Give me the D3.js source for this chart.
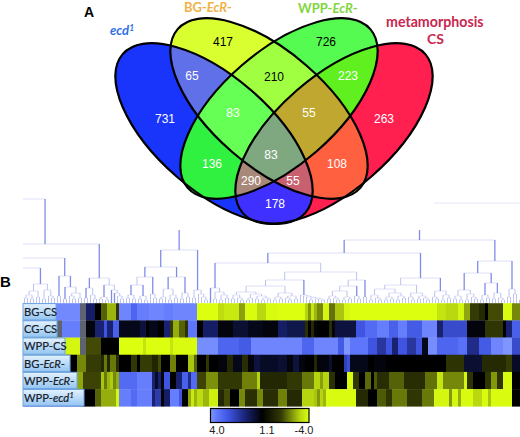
<!DOCTYPE html>
<html><head><meta charset="utf-8">
<script src="https://cdn.jsdelivr.net/npm/d3@7"></script>
<style>html,body{margin:0;padding:0;background:#fff}svg{display:block}</style>
</head><body><svg id="c" width="520" height="437"></svg>
<script>
// ---- Venn data
const vennSets = ["B","Y","G","R"];
const vennRegions = [["B"],["Y"],["G"],["R"],["B","Y"],["Y","G"],["G","R"],["B","G"],["Y","R"],["B","R"],
  ["B","Y","G"],["Y","G","R"],["B","G","R"],["B","Y","R"],["B","Y","G","R"]];
const vennCounts = [731,417,726,263,65,210,223,136,108,178,83,55,290,55,83];
const vennFills = ["#1a35fb","#d9ff30","#55fb50","#ff2050","#6070e8","#a0ff40","#60f020","#30f040","#ff6040","#4030ff",
  "#66ff55","#c0a830","#a88878","#c86070","#80a880"];
const vennInk = ["#fff","#000","#000","#fff","#fff","#000","#fff","#fff","#fff","#fff","#fff","#fff","#fff","#fff","#fff"];
const vennLabelX = [165,223,326,384,192,274,348,212,337,275,233,309,251,293,271];
const vennLabelY = [119,42,42,119,76,77,76,164,164,204,113,113,181,181,155];

// ---- Heat map data (run lengths: [columns, value]; null = grey, no data)
const rowLabels = ["BG-CS","CG-CS","WPP-CS","BG-EcR-","WPP-EcR-","WPP-ecd1"];
const bgCS = [[11,3.2],[8,3.85],[2,null],[3,1.9],[2,1.1],[2,-1.5],[3,-2.6],[1,-0.8],[4,3.8],[2,3.3],[4,3.7],[5,3.8],[3,3.7],[8,3.8],
 [7,-4],[2,-3.2],[5,-3.5],[2,-2.3],[4,-3.9],[3,-3.1],[4,-3.9],[9,-4],[1,-3],[1,-2.2],[1,-3.4],[1,-2.6],[2,-2],[2,-3.8],[2,-1.7],[3,-2.8],[2,-3.8],
 [29,-4],[3,-3.4],[4,-3.1],[2,-3.8],[2,-2.4],[3,-1],[2,-0.4],[1,1.1],[5,-1.2],[3,-3.9],[3,-2]];
const cgCS = [[11,3.2],[2,null],[6,3.7],[2,null],[3,1.2],[3,2],[1,3],[2,2],[2,3.2],[7,1.3],[2,1.6],[1,1.1],[3,1.3],[2,1.1],[2,2],[1,-1],[2,-2.5],[2,-1.5],[1,-0.7],[3,3.6],
 [2,1.1],[5,1.9],[5,1.2],[5,1.5],[5,1.3],[5,1.2],[3,1.9],[6,1.7],[1,-0.6],[1,1.1],[1,-0.4],[1,1.2],[4,1.1],[1,-0.5],[1,1.2],[7,1.6],[3,3],[4,3.4],[4,3.7],[3,3.2],
 [3,3.7],[5,3.1],[5,3.8],[2,2],[8,2.8],[6,1.2],[6,-0.8],[1,1.1],[2,2],[3,3.2]];
const wppCS = [[14,-4],[5,-3.8],[2,null],[5,-1.2],[6,1.1],[8,-4],[1,-3.4],[8,-4],[1,-3.4],[8,-3.9],
 [7,3.9],[7,3.3],[4,3.1],[9,3.8],[8,3.8],[4,3.3],[8,3.8],[2,3.1],[2,4],[6,3.6],[3,3],[3,2.4],[2,3],[2,2],[3,3],[3,2.4],[2,3],[2,1.3],[3,3.9],[7,3.3],[3,3.5],[4,2.2],[4,3.1],[4,3.8],[3,4],[3,2.8]];
const bgEcR = [[16,1.5],[2,1.1],[3,-2],[5,-1],[1,-0.3],[1,-1.8],[1,-0.3],[2,-1.8],[1,-0.5],[4,1.1],[2,-0.9],[1,1.1],[4,-1],[2,-0.2],[1,-1.2],[3,1.1],[2,-1.9],[4,1.1],[2,-2.8],[1,-1.5],
 [3,1.1],[1,-0.8],[3,1.1],[3,1.2],[2,-0.3],[3,1.3],[2,-0.5],[2,1.2],[2,1.6],[6,1.4],[3,1.5],[2,1.2],[2,1.6],[2,1.2],[3,1.1],[1,-0.3],[4,1.2],[1,1.5],[4,1.1],[1,2.6],[1,2.9],
 [6,1.3],[2,1.1],[4,1.2],[4,1.1],[16,1.1],[6,-0.7],[6,1.5],[8,-0.4],[2,-1],[3,1.4]];
const wppEcR = [[18,2.8],[2,-2.4],[6,-1.1],[1,-2.8],[1,-1.8],[1,-2.6],[1,-2.9],[1,-2],[1,-2.5],[6,3.4],[5,3.7],[1,2],[1,1.4],[1,2],[1,1.2],[2,3],[2,1.1],[2,2],[2,3.2],[1,2.2],[2,3.4],
 [3,-1.1],[4,-2.1],[8,-0.9],[5,-1.9],[1,-3],[9,-0.3],[5,-0.9],[4,-1.8],[2,-3],[1,-2.3],[2,-3],[2,-0.6],[4,1.1],[2,-3.9],[2,-0.9],[2,1.1],[2,-1.6],[1,1.1],[1,-1.4],
 [4,-0.5],[5,-1.5],[7,-0.5],[4,-1.7],[2,-3.4],[7,-2],[1,-3.8],[2,-0.7],[4,1.1],[2,-0.8],[2,-2.2],[2,-0.8],[3,-3.9],[3,1.1]];
const wppEcd = [[20,3],[4,1.1],[2,-1.5],[5,-2.5],[1,-3.8],[4,3.7],[2,3.4],[5,3.7],[1,2],[2,2.5],[1,1.1],[2,1.9],[3,3.7],[1,3],[2,1.1],[1,-2.4],[1,-3.5],[1,-2.6],
 [2,-3.2],[2,-2.6],[3,-3.6],[2,-0.3],[2,-1.2],[3,1.1],[2,-2],[4,-0.6],[2,-2],[5,-0.5],[3,-1.9],[5,-0.4],[4,-3],[1,-2.8],[1,-2.2],[1,-3],[1,-2.6],[10,-3.9],[4,-0.4],[3,1.1],[3,-1.4],[2,-0.8],
 [4,-1.8],[1,-1.8],[5,-0.8],[4,-1.8],[5,-3.8],[1,-2.2],[2,-3.8],[1,-2.5],[4,-3.9],[3,-3.1],[2,-3.9],[1,-2.8],[7,-3.9],[3,1.1]];
const heatRuns = [bgCS,cgCS,wppCS,bgEcR,wppEcR,wppEcd];
const legendTicks = [4.0,1.1,-4.0];

// ---- Dendrogram: "(a b)h" = merge at height h, "." = leaf, "_N" = off-picture branch N leaves wide
const A1="(((..)5(..)4)8(..)6)12", A2="((..)4(.(..)5)7)13";
const B2="((..)4((.(..)4)7(..)5)10)16";
const C1="((..)5(.(..)4)8)15", C2="(((..)4(..)3)6(.(.(.(..)4)7)10)13)18";
const treeA = `(_300(((_153(${A1}${A2})19)35((..)7${B2})27)45(${C1}${C2})25)59)104`;
const P="(((..)5(..)4)8((..)4(..)3)7)18", Q="(.(..)5)9";
const R1="(((..)4.)6((..)3(..)5)8)14", R2="((..)4(..)6)10";
const Z="((..)5(.(.(..)3)6)9)13";
const treeB = `(((${P}${Q})26(${R1}${R2})26)36${Z})53`;
const E0="(.((..)4((..)3(..)5)8)11)15";
const S1="((..)4(.(..)3)5)8", S2="(((..)3.)5((..)4((..)3(..)4)5)7)9";
const T="(((..)3(..)4)6((.(..)3)5(..)4)7)10", U="(.(.(.((..)3((..)4(..)3)4)5)6)7)8";
const V1="(((..)4(.(..)3)5)7((..)3(..)4)6)12", V2="(.(..)4)7";
const W1="((..)3(.(..)3)5)8", W2="(((..)3(..)4)6((..)3(..)5)7)10";
const X="((.(..)3)6((..)4(.(..)3)5)7)10", Y2="((.(..)4)6((..)3(..)5)8)12";
const left40=`(${E0}(((${`(${S1}${S2})11`}${T})17${U})23((${V1}${V2})17(..)6)23)31)40`;
const right25=`(((${W1}${W2})14${X})18${Y2})25`;
const H13="(((..)4(..)3)7((..)3(.(..)4)6)9)13", H20="(((..)3(..)5)8((..)4(.(..)3)5)10)20";
const treeC = `((${left40}${right25})50((${H13}${H20})30((..)6(..)9)14)42)63`;
const treeD = "((..)3(..)4)6";
const treeRoots = [treeA,treeB,treeC,treeD];
const treeStems = [null,73,73,null];
const treeOrigin = 453;

// ---- Scaffolding
const svg = d3.select("#c");
const defs = svg.append("defs");
const sans = "'Liberation Sans',Arial,sans-serif";
const human = "Lato,'Open Sans',sans-serif";

// ---- Venn
const ellA = 121, ellB = 57, ellT = 41;
const ellipses = {B:{cx:214,cy:133.5,r:ellT},Y:{cx:269,cy:108.5,r:ellT},G:{cx:279,cy:108.5,r:-ellT},R:{cx:334,cy:133.5,r:-ellT}};
const setEllipse = (sel,k)=>sel.attr("cx",ellipses[k].cx).attr("cy",ellipses[k].cy).attr("rx",ellA).attr("ry",ellB)
  .attr("transform",`rotate(${ellipses[k].r} ${ellipses[k].cx} ${ellipses[k].cy})`);
vennSets.forEach(k=>{ defs.append("clipPath").attr("id","clip"+k).append("ellipse").call(setEllipse,k); });
const venn = svg.append("g");
vennRegions.forEach((sets,i)=>{
  let g = venn;
  sets.forEach(k=>{ g = g.append("g").attr("clip-path",`url(#clip${k})`); });
  g.append("rect").attr("width",520).attr("height",240).attr("fill",vennFills[i]);
});
vennSets.forEach(k=>{ venn.append("ellipse").call(setEllipse,k).attr("fill","none").attr("stroke","#000").attr("stroke-width",2.2); });
svg.append("g").selectAll("text").data(vennCounts).join("text")
  .attr("x",(d,i)=>vennLabelX[i]).attr("y",(d,i)=>vennLabelY[i]+4.3).attr("text-anchor","middle")
  .attr("font-family",sans).attr("font-size",12).attr("fill",(d,i)=>vennInk[i]).text(d=>d);

function label(x,y,color,parts,size){
  const t = svg.append("text").attr("x",x).attr("y",y).attr("font-family",human).attr("font-weight",700)
    .attr("font-size",size).attr("fill",color);
  parts.forEach(p=>{ const s=t.append("tspan").text(p.t); if(p.i)s.attr("font-style","italic"); if(p.sup)s.attr("dy",-4).attr("font-size",size*0.65); });
}
svg.append("text").attr("x",84).attr("y",17).attr("font-family",sans).attr("font-weight",700).attr("font-size",14).text("A");
svg.append("text").attr("x",0).attr("y",287).attr("font-family",sans).attr("font-weight",700).attr("font-size",15).text("B");
label(110,35,"#2f6fe2",[{t:"ecd",i:1},{t:"1",i:1,sup:1}],13);
label(184,12,"#efb247",[{t:"BG-"},{t:"EcR",i:1},{t:"-"}],13);
label(298,13,"#80d63e",[{t:"WPP-"},{t:"EcR",i:1},{t:"-"}],13);
label(386,27,"#c8274f",[{t:"metamorphosis"}],14.2);
label(427,44,"#c8274f",[{t:"CS"}],14);

// ---- Dendrogram
function parseTree(s){
  let i=0;
  function num(){ const m=/^\d+/.exec(s.slice(i)); i+=m[0].length; return +m[0]; }
  function node(){
    const c=s[i];
    if(c==="."){ i++; return {h:0,w:1}; }
    if(c==="_"){ i++; return {h:0,w:num(),hidden:true}; }
    i++; const kids=[]; while(s[i]!==")"){ if(i>=s.length) throw new Error("unbalanced"); kids.push(node()); }
    i++; return {h:num(),children:kids};
  }
  return node();
}
const heatX0 = 23, colW = 3, nCols = 166;
const slotX = d3.scaleLinear().domain([treeOrigin,treeOrigin+nCols]).range([heatX0,heatX0+colW*nCols]);
const treeY = d3.scaleLinear().domain([0,104]).range([303,199]);
defs.append("clipPath").attr("id","treeClip").append("rect").attr("x",23).attr("y",190).attr("width",497).attr("height",114);
const tree = svg.append("g").attr("clip-path","url(#treeClip)");
let cursor = 0;
const hLines=[], vLines=[];
treeRoots.forEach((src,ri)=>{
  const root = d3.hierarchy(parseTree(src));
  root.eachAfter(n=>{
    if(!n.children){ n.slot=cursor+n.data.w/2; cursor+=n.data.w; }
    else n.slot=d3.mean([n.children[0].slot,n.children[n.children.length-1].slot]);
  });
  root.each(n=>{
    if(n.children) hLines.push({a:n.children[0].slot,b:n.children[n.children.length-1].slot,h:n.data.h});
    const top = n.parent ? n.parent.data.h : treeStems[ri];
    if(top!==null && !n.data.hidden) vLines.push({x:n.slot,h0:n.data.h,h1:top});
  });
});
tree.selectAll(".h").data(hLines).join("line").attr("class","h")
  .attr("x1",d=>slotX(d.a)).attr("x2",d=>slotX(d.b)).attr("y1",d=>treeY(d.h)).attr("y2",d=>treeY(d.h))
  .attr("stroke",d=>d.h>9?"#dde0f8":"#e3e5f9").attr("stroke-width",1);
tree.selectAll(".v").data(vLines).join("line").attr("class","v")
  .attr("x1",d=>slotX(d.x)).attr("x2",d=>slotX(d.x)).attr("y1",d=>treeY(d.h1)).attr("y2",d=>treeY(d.h0))
  .attr("stroke",d=>d.h1-d.h0>9?"#7f8de6":"#bcc3f0").attr("stroke-width",d=>d.h1-d.h0>9?1.3:1);
tree.append("line").attr("x1",slotX(treeOrigin+137)).attr("x2",520).attr("y1",treeY(100)).attr("y2",treeY(100)).attr("stroke","#e4e6f8");

// ---- Heat map
const heatColor = d3.scaleLinear()
  .domain([4,3.6,3,2,1.1,-1,-2,-3,-4])
  .range(["#7f95ff","#5d76fb","#3f55e2","#182270","#000000","#353b04","#76880a","#b6d410","#dcff10"]).clamp(true);
const rowY = d3.scaleBand().domain(d3.range(rowLabels.length)).range([303.2,406.3]);
const colX = d3.scaleLinear().domain([0,nCols]).range([heatX0,heatX0+colW*nCols]);
const heat = svg.append("g");
heatRuns.forEach((runs,r)=>{
  const cells=[]; let c=0;
  runs.forEach(([n,v])=>{ cells.push({c,n,v}); c+=n; });
  heat.append("g").selectAll("rect").data(cells).join("rect")
    .attr("x",d=>colX(d.c)).attr("width",d=>colX(d.n)-colX(0)+0.3).attr("y",rowY(r)).attr("height",rowY.bandwidth()+0.3)
    .attr("fill",d=>d.v===null?"#5d6470":heatColor(d.v));
});

// ---- Row labels
const grad = defs.append("linearGradient").attr("id","lab").attr("x1",0).attr("x2",0).attr("y1",0).attr("y2",1);
grad.append("stop").attr("offset",0).attr("stop-color","#e4f2fd");
grad.append("stop").attr("offset",1).attr("stop-color","#93c4f0");
const labelWidths = [33,34,42,47,54,61];
rowLabels.forEach((t,i)=>{
  svg.append("rect").attr("x",23).attr("y",rowY(i)+0.4).attr("width",labelWidths[i]).attr("height",rowY.bandwidth()-0.8)
    .attr("fill","url(#lab)").attr("stroke","#6ea6e2").attr("stroke-width",1);
  const tx = svg.append("text").attr("x",24).attr("y",rowY(i)+12.8).attr("font-family",human).attr("font-size",11.2)
    .attr("fill","#16202c").attr("stroke","#16202c").attr("stroke-width",0.2);
  const m = /^(.*-)(EcR|ecd)(.*)$/.exec(t);
  if(m){ tx.append("tspan").text(m[1]); tx.append("tspan").attr("font-style","italic").text(m[2]);
    if(m[3]==="1") tx.append("tspan").attr("font-style","italic").attr("dy",-4).attr("font-size",8).text("1");
    else tx.append("tspan").text(m[3]);
  } else tx.text(t);
});

// ---- Legend
const legX = d3.scaleLinear().domain([4,1.1,-4]).range([210.5,262,309]);
const lg = defs.append("linearGradient").attr("id","leg");
heatColor.domain().forEach(v=>lg.append("stop").attr("offset",(legX(v)-210.5)/98.5).attr("stop-color",heatColor(v)));
svg.append("rect").attr("x",210.5).attr("y",408.5).attr("width",98.5).attr("height",14).attr("fill","url(#leg)").attr("stroke","#000").attr("stroke-width",1.2);
const tickAt = [217,267,304];
svg.selectAll(".lt").data(legendTicks).join("text").attr("class","lt")
  .attr("x",(d,i)=>tickAt[i]).attr("y",434).attr("text-anchor","middle").attr("font-family",sans).attr("font-size",11).attr("fill","#222")
  .text(d=>d.toFixed(1));
</script></body></html>
